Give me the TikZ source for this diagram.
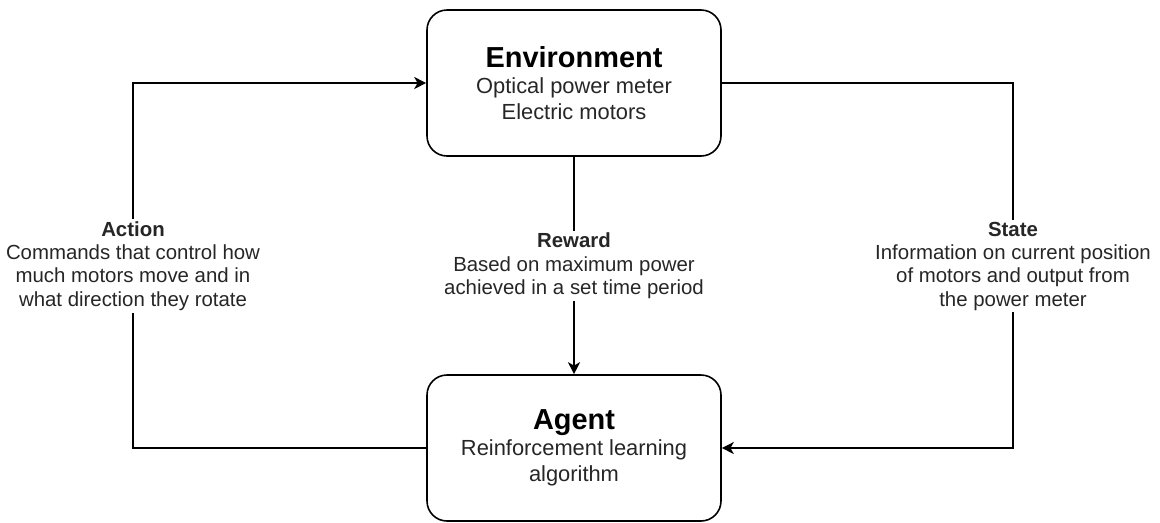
\documentclass[tikz,border=0pt]{standalone}
\usepackage{fontspec}
\setmainfont{Liberation Sans}
\usetikzlibrary{arrows.meta}

\tikzset{every picture/.style={line width=0.75pt}}
\tikzset{
  roundbox/.style={draw, rounded corners=15pt, line width=1.2pt, minimum width=220.5pt, minimum height=109.5pt, align=center, text=black!85, font=\fontsize{16.4}{19.5}\selectfont},
  flowline/.style={line width=1.2pt, -{Stealth[length=9pt,width=9pt,inset=2.5pt]}},
  edgelabel/.style={fill=white, align=center, inner sep=1.5pt, text=black!85, font=\fontsize{15.3}{17.5}\selectfont}
}
\newcommand{\boxtitle}[1]{{\fontsize{21.7}{26}\selectfont\bfseries\color{black}#1}}

\begin{document}
\begin{tikzpicture}[x=0.75pt,y=0.75pt,yscale=-1,xscale=1]
\useasboundingbox (0,0) rectangle (1160,522);

%Shape: Rounded Rectangle [env]
\node [roundbox] (env) at (574,83) {\boxtitle{Environment}\\Optical power meter\\Electric motors};
%Shape: Rounded Rectangle [agent]
\node [roundbox] (agent) at (574,448) {\boxtitle{Agent}\\Reinforcement learning\\algorithm};

%Corner points of the loop
\coordinate (actx) at (133,266);
\coordinate (statex) at (1013,266);

%Straight Lines [action]
\draw [flowline] (agent.west) -- (agent.west -| actx) -- (env.west -| actx) -- (env.west);
%Straight Lines [state]
\draw [flowline] (env.east) -- (env.east -| statex) -- (agent.east -| statex) -- (agent.east);
%Straight Lines [reward]
\draw [flowline] (env.south) -- (agent.north);

% Text Node
\node [edgelabel] (action) at (actx) {\textbf{Action}\\Commands that control how\\much motors move and in\\what direction they rotate};
% Text Node
\node [edgelabel] (reward) at (env.south |- actx) {\textbf{Reward}\\Based on maximum power\\achieved in a set time period};
% Text Node
\node [edgelabel] (state) at (statex) {\textbf{State}\\Information on current position\\of motors and output from\\the power meter};

\end{tikzpicture}
\end{document}
